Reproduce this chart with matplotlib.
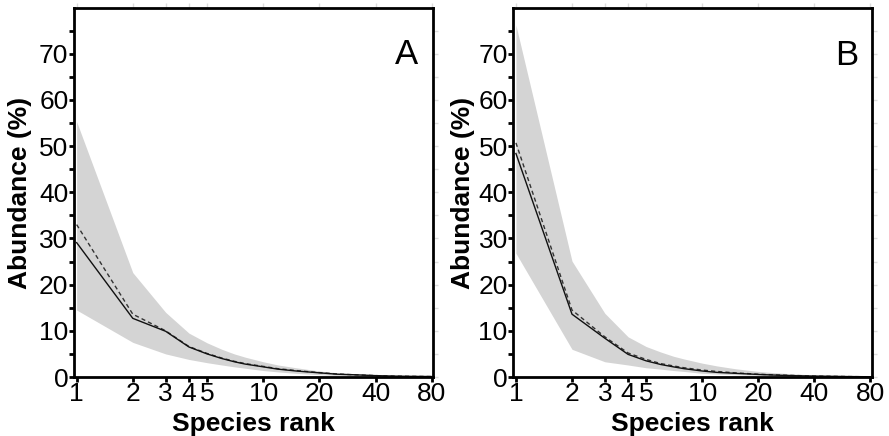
import matplotlib
matplotlib.use("Agg")
import matplotlib.pyplot as plt
from matplotlib.ticker import FixedLocator, NullFormatter, NullLocator

plt.rcParams['font.family'] = ['Liberation Sans', 'DejaVu Sans']

ranks = [1, 2, 3, 4, 5, 6, 7, 8, 10, 12, 15, 20, 25, 30, 40, 50, 60, 80]

a_solid = [29.1, 12.7, 9.9, 6.5, 5.0, 4.0, 3.3, 2.8, 2.2, 1.7, 1.3, 0.9, 0.6, 0.5, 0.3, 0.2, 0.15, 0.1]
a_dash = [33.0, 13.6, 10.0, 6.6, 5.1, 4.1, 3.4, 2.9, 2.3, 1.8, 1.4, 0.95, 0.65, 0.5, 0.3, 0.2, 0.15, 0.1]
a_upper = [55.3, 22.6, 14.0, 9.5, 7.4, 6.0, 5.0, 4.3, 3.3, 2.6, 2.0, 1.3, 0.9, 0.7, 0.5, 0.35, 0.25, 0.2]
a_lower = [14.5, 7.5, 5.0, 3.8, 3.1, 2.6, 2.2, 1.9, 1.4, 1.1, 0.8, 0.5, 0.35, 0.25, 0.15, 0.1, 0.05, 0.0]

b_solid = [48.4, 13.6, 8.4, 4.9, 3.5, 2.7, 2.2, 1.8, 1.3, 1.0, 0.8, 0.55, 0.4, 0.3, 0.2, 0.15, 0.1, 0.05]
b_dash = [50.7, 14.5, 8.7, 5.2, 3.8, 2.9, 2.4, 2.0, 1.5, 1.2, 0.9, 0.6, 0.45, 0.35, 0.2, 0.15, 0.1, 0.05]
b_upper = [76.2, 25.1, 13.8, 8.7, 6.6, 5.4, 4.5, 3.9, 3.0, 2.4, 1.8, 1.2, 0.9, 0.7, 0.45, 0.3, 0.2, 0.15]
b_lower = [26.8, 6.0, 3.3, 2.6, 2.0, 1.7, 1.4, 1.2, 0.8, 0.65, 0.5, 0.35, 0.25, 0.2, 0.1, 0.05, 0.03, 0.0]

xticks = [1, 2, 3, 4, 5, 10, 20, 40, 80]
xticklabels = ['1', '2', '3', '4', '5', '10', '20', '40', '80']
yticks = [0, 10, 20, 30, 40, 50, 60, 70]
yminor = [5, 15, 25, 35, 45, 55, 65, 75]
panel_labels = ['A', 'B']

W, H = 889, 436
fig = plt.figure(figsize=(W / 100, H / 100), dpi=100)

top_px, bot_px = 8, 377
panels = [(74, 433), (513.3, 871.7)]
datasets = [(a_solid, a_dash, a_upper, a_lower), (b_solid, b_dash, b_upper, b_lower)]
label_pos = [(0.925, 0.875), (0.931, 0.872)]
ylabel_x = [-0.117, -0.107]

for (l, r), (solid, dash, up, lo), lab, lp, ylx in zip(panels, datasets, panel_labels,
                                                       label_pos, ylabel_x):
    ax = fig.add_axes([l / W, 1 - bot_px / H, (r - l) / W, (bot_px - top_px) / H])
    ax.fill_between(ranks, lo, up, color='#d4d4d4', lw=0)
    ax.plot(ranks, dash, color='#333333', lw=1.0, dashes=(3, 2.2))
    ax.plot(ranks, solid, color='#111111', lw=1.0)
    ax.set_xscale('log')
    ax.set_xlim(0.968, 81.3)
    ax.set_ylim(0, 79.9)
    ax.xaxis.set_major_locator(FixedLocator(xticks))
    ax.xaxis.set_minor_locator(NullLocator())
    ax.set_xticklabels(xticklabels)
    ax.xaxis.set_minor_formatter(NullFormatter())
    ax.set_yticks(yticks)
    ax.yaxis.set_minor_locator(FixedLocator(yminor))
    for s in ax.spines.values():
        s.set_linewidth(2.0)
    ax.tick_params(which='both', direction='out', length=3.5, width=2.0,
                   labelsize=19, colors='black')
    ax.tick_params(axis='x', pad=0)
    ax.tick_params(axis='y', pad=0.5)
    ax.set_xlabel('Species rank', fontsize=19, fontweight='bold')
    ax.set_ylabel('Abundance (%)', fontsize=19, fontweight='bold')
    ax.xaxis.set_label_coords(0.5, -0.094)
    ax.yaxis.set_label_coords(ylx, 0.5)
    ax.text(lp[0], lp[1], lab, transform=ax.transAxes, fontsize=25,
            ha='center', va='center')
    # faint ticks on top and right
    sx = ax.secondary_xaxis('top')
    sx.set_xticks(xticks)
    sx.xaxis.set_minor_locator(NullLocator())
    sx.tick_params(which='both', direction='out', length=3.5, width=1.0,
                   colors='#dddddd', labeltop=False)
    sx.spines['top'].set_visible(False)
    sy = ax.secondary_yaxis('right')
    sy.set_yticks(yticks)
    sy.yaxis.set_minor_locator(FixedLocator(yminor))
    sy.tick_params(which='both', direction='out', length=3.5, width=1.0,
                   colors='#dddddd', labelright=False)
    sy.spines['right'].set_visible(False)

fig.savefig('out.png', dpi=100)
